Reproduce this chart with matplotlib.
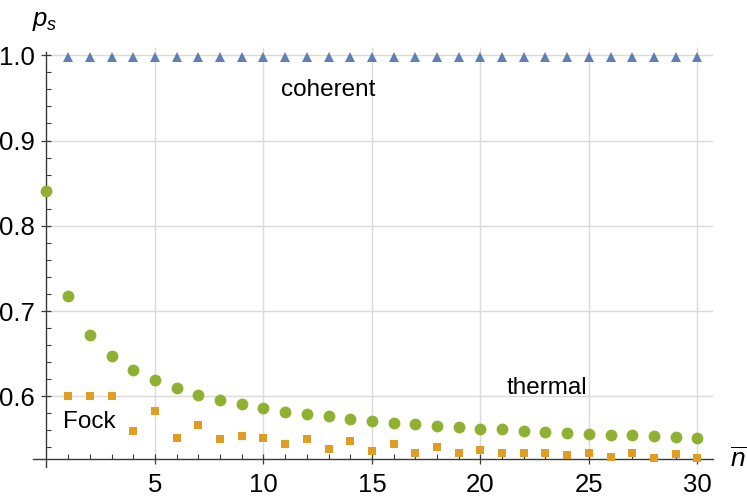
import numpy as np
import matplotlib
matplotlib.use('Agg')
import matplotlib.pyplot as plt

# Values
n_thermal = list(range(0, 31))
p_thermal = [0.841, 0.718, 0.672, 0.647, 0.631, 0.619, 0.610, 0.602, 0.596, 0.591,
             0.586, 0.582, 0.579, 0.577, 0.573, 0.571, 0.569, 0.567, 0.565, 0.564,
             0.562, 0.561, 0.559, 0.558, 0.557, 0.556, 0.555, 0.554, 0.553, 0.552,
             0.551]

n_fock = list(range(1, 31))
p_fock = [0.600, 0.600, 0.600, 0.559, 0.583, 0.551, 0.566, 0.550, 0.553, 0.551,
          0.544, 0.550, 0.538, 0.547, 0.536, 0.544, 0.534, 0.540, 0.534, 0.537,
          0.534, 0.533, 0.534, 0.531, 0.533, 0.529, 0.533, 0.528, 0.532, 0.527]

n_coherent = list(range(1, 31))
p_coherent = [0.998] * 30

y_major = [0.6, 0.7, 0.8, 0.9, 1.0]
y_labels = ['0.6', '0.7', '0.8', '0.9', '1.0']
x_major = [5, 10, 15, 20, 25, 30]

blue = '#5E81B5'
orange = '#E19C24'
green = '#8FB131'
axis_col = '#3a3a3a'
grid_col = '#dadada'

plt.rcParams['font.family'] = ['Liberation Sans', 'DejaVu Sans']
plt.rcParams['mathtext.fontset'] = 'custom'
plt.rcParams['mathtext.it'] = 'Liberation Sans:italic'
plt.rcParams['mathtext.rm'] = 'Liberation Sans'

fig = plt.figure(figsize=(7.47, 4.98), dpi=100)
ax = fig.add_axes([33 / 747, 1 - 467 / 498, 680 / 747, 420 / 498])

x0, x1 = -0.62, 30.72
y0, y1 = 0.517, 1.0097
ax.set_xlim(x0, x1)
ax.set_ylim(y0, y1)
y_axis_at = 0.526

# grid lines (only inside the quadrant of the axes)
ax.hlines(y_major, 0, x1, color=grid_col, lw=1.0, zorder=0)
ax.vlines(x_major, y_axis_at, y1, color=grid_col, lw=1.0, zorder=0)

ax.plot(n_coherent, p_coherent, linestyle='none', marker='^', ms=7.4,
        color=blue, mew=0, zorder=3)
ax.plot(n_thermal, p_thermal, linestyle='none', marker='o', ms=8.5,
        color=green, mew=0, zorder=3)
ax.plot(n_fock, p_fock, linestyle='none', marker='s', ms=5.2,
        color=orange, mew=0, zorder=3)

# axes crossing like the original
for s in ['top', 'right']:
    ax.spines[s].set_visible(False)
ax.spines['left'].set_position(('data', 0))
ax.spines['bottom'].set_position(('data', y_axis_at))
ax.spines['left'].set_bounds(y0, 1.004)
ax.spines['left'].set_color(axis_col)
ax.spines['bottom'].set_color(axis_col)
ax.spines['left'].set_linewidth(1.0)
ax.spines['bottom'].set_linewidth(1.0)

ax.set_yticks(y_major)
ax.set_yticklabels(y_labels)
ax.set_yticks(np.arange(0.54, 1.0, 0.02), minor=True)
ax.set_xticks(x_major)
ax.set_xticklabels([str(v) for v in x_major])
ax.set_xticks(range(1, 31), minor=True)

ax.tick_params(axis='both', which='major', direction='inout', length=7.5, width=0.9,
               color=axis_col, labelsize=18.5, labelcolor='black')
ax.tick_params(axis='both', which='minor', direction='in', length=3.5, width=0.8,
               color=axis_col)
ax.tick_params(axis='y', which='major', pad=4.5)
ax.tick_params(axis='x', which='major', pad=6.0)

ax.text(13.0, 0.959, 'coherent', fontsize=17.5, ha='center', va='center')
ax.text(23.06, 0.610, 'thermal', fontsize=17.5, ha='center', va='center')
ax.text(1.99, 0.570, 'Fock', fontsize=17.5, ha='center', va='center')

fig.text(45 / 747, 1 - 26 / 498, r'$p_s$', fontsize=18.5, ha='center', va='baseline')
fig.text(738 / 747, 1 - 467 / 498, r'$\overline{n}$', fontsize=19, ha='center',
         va='baseline')

fig.savefig('out.png', dpi=100)
